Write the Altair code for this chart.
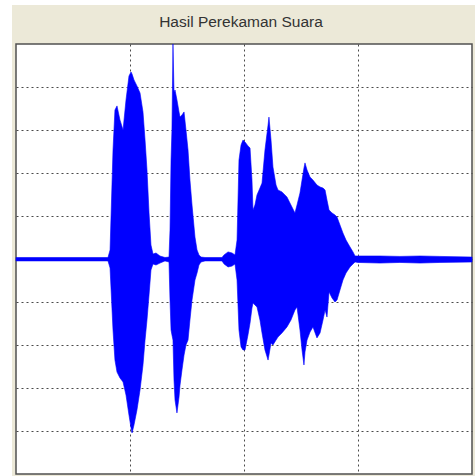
import altair as alt
import pandas as pd

# Envelope of the recorded waveform: time (s), upper and lower amplitude
time_s = [0.0, 0.386, 0.807, 0.825, 0.851, 0.868, 0.886, 0.912, 0.939, 0.965,
          0.991, 1.009, 1.018, 1.035, 1.061, 1.088, 1.114, 1.132, 1.149, 1.167,
          1.184, 1.202, 1.228, 1.263, 1.307, 1.342, 1.351, 1.360, 1.368, 1.377,
          1.386, 1.395, 1.412, 1.430, 1.439, 1.456, 1.474, 1.491, 1.509, 1.526,
          1.544, 1.570, 1.588, 1.605, 1.623, 1.658, 1.807, 1.825, 1.860, 1.895,
          1.921, 1.939, 1.956, 1.974, 1.991, 2.009, 2.035, 2.053, 2.070, 2.079,
          2.096, 2.114, 2.140, 2.158, 2.184, 2.211, 2.219, 2.237, 2.254, 2.281,
          2.298, 2.333, 2.377, 2.412, 2.447, 2.465, 2.491, 2.509, 2.526, 2.535,
          2.553, 2.579, 2.605, 2.640, 2.667, 2.693, 2.711, 2.728, 2.746, 2.772,
          2.798, 2.816, 2.842, 2.868, 2.895, 2.930, 2.956, 2.974, 3.000, 3.193,
          3.368, 3.544, 3.719, 4.0]

env_upper = [0.007, 0.007, 0.007, 0.042, 0.507, 0.693, 0.712, 0.647, 0.600, 0.740,
             0.851, 0.870, 0.860, 0.833, 0.805, 0.772, 0.684, 0.553, 0.414, 0.214,
             0.065, 0.023, 0.028, 0.014, 0.007, 0.009, 0.135, 0.460, 0.600, 1.000,
             0.777, 0.786, 0.740, 0.684, 0.660, 0.670, 0.684, 0.600, 0.507, 0.367,
             0.251, 0.102, 0.042, 0.019, 0.009, 0.007, 0.007, 0.019, 0.033, 0.028,
             0.019, 0.088, 0.460, 0.530, 0.553, 0.544, 0.526, 0.516, 0.367, 0.228,
             0.251, 0.298, 0.330, 0.353, 0.507, 0.623, 0.660, 0.553, 0.428, 0.344,
             0.321, 0.312, 0.288, 0.251, 0.214, 0.251, 0.307, 0.367, 0.423, 0.447,
             0.414, 0.381, 0.367, 0.344, 0.335, 0.330, 0.321, 0.274, 0.228, 0.214,
             0.205, 0.195, 0.158, 0.121, 0.088, 0.056, 0.033, 0.014, 0.014, 0.014,
             0.012, 0.014, 0.012, 0.009]

env_lower = [-0.009, -0.009, -0.009, -0.042, -0.330, -0.470, -0.526, -0.553, -0.572, -0.633,
             -0.726, -0.786, -0.809, -0.772, -0.702, -0.609, -0.493, -0.377, -0.284, -0.167,
             -0.051, -0.023, -0.028, -0.019, -0.009, -0.014, -0.191, -0.330, -0.353, -0.377,
             -0.563, -0.656, -0.716, -0.642, -0.586, -0.516, -0.447, -0.400, -0.377, -0.284,
             -0.191, -0.098, -0.065, -0.028, -0.014, -0.009, -0.009, -0.023, -0.037, -0.033,
             -0.023, -0.098, -0.330, -0.409, -0.423, -0.423, -0.353, -0.298, -0.228, -0.205,
             -0.214, -0.223, -0.284, -0.344, -0.423, -0.470, -0.447, -0.391, -0.400, -0.377,
             -0.363, -0.344, -0.316, -0.284, -0.237, -0.223, -0.330, -0.423, -0.493, -0.433,
             -0.377, -0.340, -0.316, -0.367, -0.344, -0.284, -0.237, -0.270, -0.153, -0.181,
             -0.200, -0.191, -0.144, -0.098, -0.065, -0.037, -0.023, -0.014, -0.016, -0.019,
             -0.016, -0.019, -0.016, -0.014]

x_grid = [1, 2, 3]
y_grid = [-0.8, -0.6, -0.4, -0.2, 0.0, 0.2, 0.4, 0.6, 0.8]
title_text = ["Hasil Perekaman Suara"]

wave = pd.DataFrame({"t": time_s, "hi": env_upper, "lo": env_lower})

W, H = 456, 430
BEIGE = "#ECE9D8"

x_enc = alt.X(
    "t:Q",
    scale=alt.Scale(domain=[0, 4], nice=False, zero=False),
    axis=alt.Axis(values=x_grid, labels=False, ticks=False, domain=False, title=None,
                  grid=True, gridColor="#4a4a4a", gridDash=[2, 3], gridWidth=1,
                  gridOpacity=1),
)
y_enc = alt.Y(
    "hi:Q",
    scale=alt.Scale(domain=[-1, 1], nice=False, zero=False),
    axis=alt.Axis(values=y_grid, labels=False, ticks=False, domain=False, title=None,
                  grid=True, gridColor="#4a4a4a", gridDash=[2, 3], gridWidth=1,
                  gridOpacity=1),
)

signal = alt.Chart(wave).mark_area(
    color="#0000FF", opacity=1, interpolate="linear",
    stroke="#0000FF", strokeWidth=0.6,
).encode(x=x_enc, y=y_enc, y2="lo:Q")

# white margin strips along the left and top of the window frame
strip_df = pd.DataFrame({"k": [0]})
left_strip = alt.Chart(strip_df).mark_rect(color="white").encode(
    x=alt.value(-16), x2=alt.value(-4), y=alt.value(-44), y2=alt.value(H + 2)
)
top_strip = alt.Chart(strip_df).mark_rect(color="white").encode(
    x=alt.value(-16), x2=alt.value(W + 3), y=alt.value(-44), y2=alt.value(-39)
)

# figure title in the grey band above the axes
title = alt.Chart(pd.DataFrame({"label": title_text})).mark_text(
    font="Liberation Sans", fontSize=15.5, color="#333333",
    align="center", baseline="middle",
).encode(x=alt.value(W / 2 - 3), y=alt.value(-22), text="label:N")

chart = alt.layer(left_strip, top_strip, signal, title).properties(
    width=W,
    height=H,
    background=BEIGE,
    padding={"left": 16, "top": 44, "right": 3, "bottom": 2},
    autosize=alt.AutoSizeParams(type="none"),
).configure_view(
    fill="white", stroke="#505050", strokeWidth=1.5
)

chart.save("out.html", embed_options={"renderer": "svg", "actions": False})
